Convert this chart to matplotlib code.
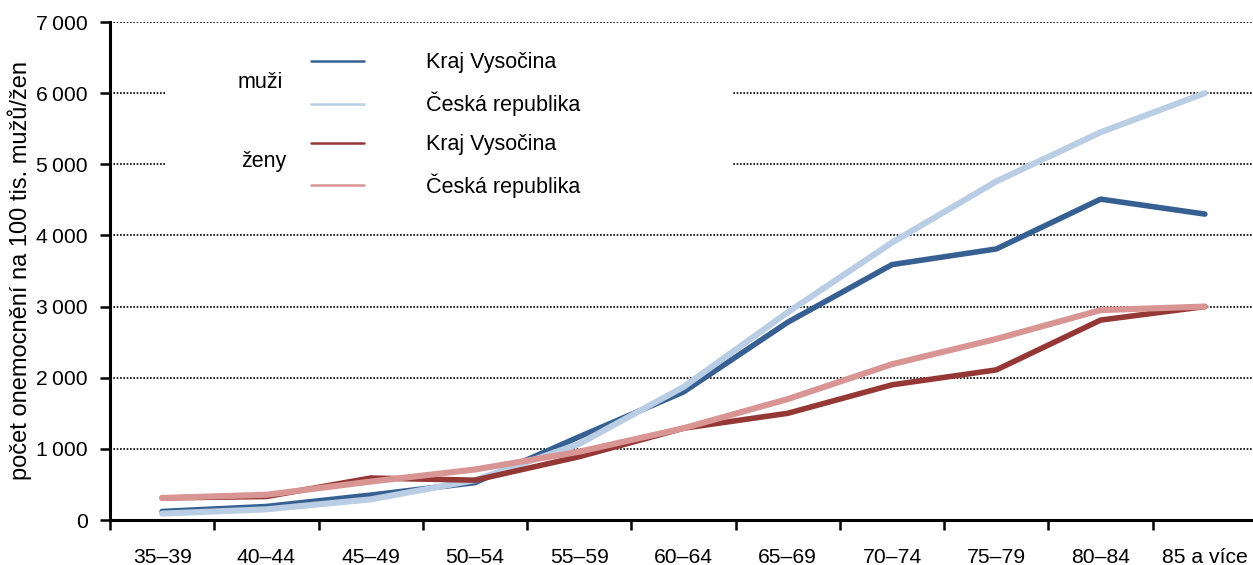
import matplotlib
matplotlib.use("Agg")
import matplotlib.pyplot as plt
from matplotlib.patches import Rectangle
from matplotlib.ticker import FixedLocator, FuncFormatter

plt.rcParams['font.family'] = ['Liberation Sans', 'DejaVu Sans']

categories = ["35–39", "40–44", "45–49", "50–54", "55–59", "60–64",
              "65–69", "70–74", "75–79", "80–84", "85 a více"]
muzi_vysocina = [120, 190, 350, 525, 1170, 1800, 2780, 3590, 3810, 4510, 4300]
muzi_cr = [90, 150, 290, 560, 1070, 1870, 2920, 3900, 4760, 5450, 6000]
zeny_vysocina = [310, 330, 590, 560, 890, 1290, 1500, 1900, 2110, 2810, 3000]
zeny_cr = [310, 355, 540, 710, 960, 1290, 1700, 2190, 2545, 2950, 3000]
yticks = [0, 1000, 2000, 3000, 4000, 5000, 6000, 7000]
ylabel = "počet onemocnění na 100 tis. mužů/žen"
label_kraj = "Kraj Vysočina"
label_cr = "Česká republika"

W, H = 1253, 565
AX_L, AX_B, AX_W, AX_H = 110, 45, 1147, 498
fig = plt.figure(figsize=(W / 100, H / 100), dpi=100)
ax = fig.add_axes([AX_L / W, AX_B / H, AX_W / W, AX_H / H])


def axc(px, py):
    """pixel position (from top-left of image) -> axes fraction"""
    return (px - AX_L) / AX_W, (H - AX_B - py) / AX_H


x = list(range(len(categories)))
c_mv, c_mc, c_zv, c_zc = "#376092", "#B9CDE5", "#953735", "#D99594"
kw = dict(solid_capstyle='round', solid_joinstyle='round')
l1, = ax.plot(x, muzi_vysocina, color=c_mv, lw=4.0, zorder=3, **kw)
l2, = ax.plot(x, muzi_cr, color=c_mc, lw=4.4, zorder=3.1, **kw)
l3, = ax.plot(x, zeny_vysocina, color=c_zv, lw=4.0, zorder=3.2, **kw)
l4, = ax.plot(x, zeny_cr, color=c_zc, lw=4.4, zorder=3.3, **kw)

ax.set_xlim(-0.5, len(categories) - 0.5)
ax.set_ylim(0, 7000)
ax.set_yticks(yticks)
ax.yaxis.set_major_formatter(FuncFormatter(lambda v, p: f"{int(v):,}".replace(",", "\u2009")))
ax.set_xticks(x)
ax.set_xticklabels(categories)
ax.xaxis.set_minor_locator(FixedLocator([i - 0.5 for i in range(len(categories) + 1)]))
ax.tick_params(axis='x', which='major', length=0, pad=20, labelsize=15.2)
ax.tick_params(axis='x', which='minor', length=7, width=1.8, direction='out')
ax.tick_params(axis='y', length=7, width=1.8, direction='out', labelsize=15.2, pad=9)

for s in ['top', 'right']:
    ax.spines[s].set_visible(False)
for s in ['left', 'bottom']:
    ax.spines[s].set_linewidth(2.2)

ax.set_axisbelow(True)
ax.yaxis.grid(True, color='black', linestyle=(0, (1, 1.0)), linewidth=1.2)

ax.set_ylabel(ylabel, fontsize=17, labelpad=3)

# white panel behind legend (hides gridlines)
x0, y0 = axc(165, 200)
x1, y1 = axc(732, 40)
ax.add_patch(Rectangle((x0, y0), x1 - x0, y1 - y0, transform=ax.transAxes,
                       facecolor='white', edgecolor='none', zorder=1))

leg = ax.legend([l1, l2, l3, l4], [label_kraj, label_cr, label_kraj, label_cr],
                loc='upper left', bbox_to_anchor=axc(305, 46),
                frameon=False, fontsize=15.5, handlelength=2.45, handletextpad=2.85,
                labelspacing=0.84, borderaxespad=0, borderpad=0.3)
for h in leg.get_lines():
    h.set_linewidth(1.8)

mx, my = axc(260, 83)
ax.text(mx, my, "muži", transform=ax.transAxes, fontsize=15.5, ha='center', va='center')
zx, zy = axc(264, 162)
ax.text(zx, zy, "ženy", transform=ax.transAxes, fontsize=15.5, ha='center', va='center')

fig.savefig("out.png", dpi=100)
